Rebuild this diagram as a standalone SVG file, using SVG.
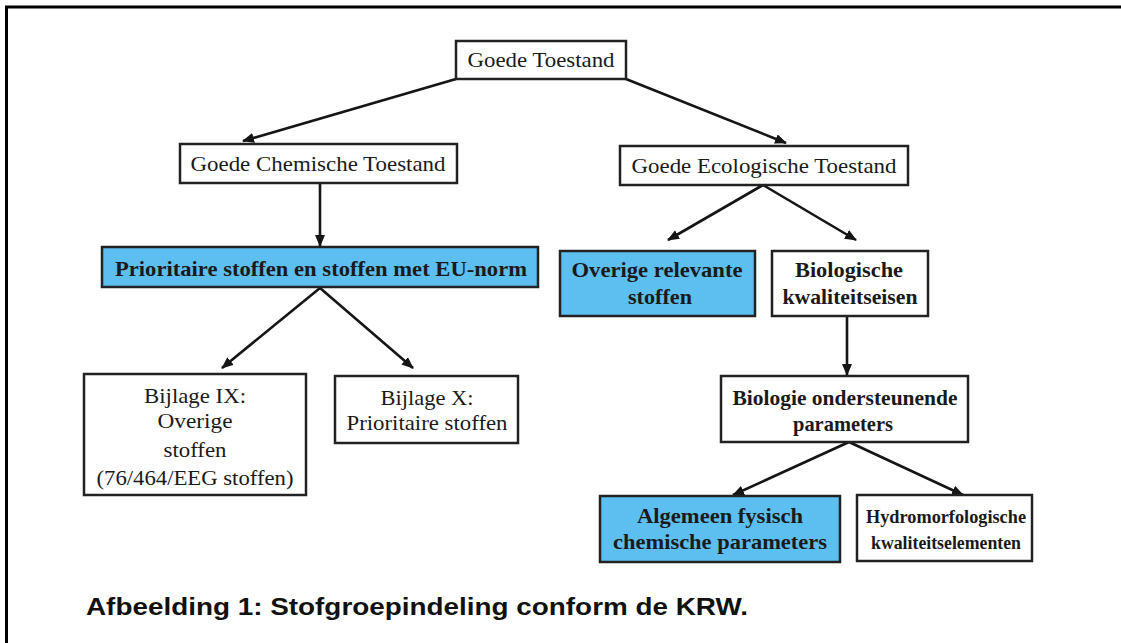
<svg xmlns="http://www.w3.org/2000/svg" width="1121" height="643" viewBox="0 0 1121 643">
<defs>
<marker id="ah" viewBox="0 0 12 10" refX="11" refY="5" markerWidth="12" markerHeight="10" markerUnits="userSpaceOnUse" orient="auto">
<path d="M0,0 L12,5 L0,10 z" fill="#151515"/>
</marker>
<style>
.box{fill:#ffffff;stroke:#222;stroke-width:2.5}
.blue{fill:#5cbff0;stroke:#222;stroke-width:2.5}
.t{font-family:"Liberation Serif","Times New Roman",serif;font-size:22px;fill:#1a1a1a;text-anchor:middle}
.b{font-weight:bold}
text.s{font-size:18px}
.c{stroke:#151515;stroke-width:2.6;fill:none;marker-end:url(#ah)}
.cap{font-family:"Liberation Sans",Arial,sans-serif;font-size:23px;font-weight:bold;fill:#111}
</style>
</defs>
<rect width="1121" height="643" fill="#ffffff"/>
<path d="M6.5,643 V7 H1121" fill="none" stroke="#000" stroke-width="3"/>

<g id="connectors">
<line class="c" x1="456" y1="79" x2="243" y2="141"/>
<line class="c" x1="626" y1="79" x2="786" y2="143"/>
<line class="c" x1="320" y1="183" x2="320" y2="246"/>
<line class="c" x1="320" y1="288" x2="222" y2="368"/>
<line class="c" x1="320" y1="288" x2="413" y2="368"/>
<line class="c" x1="763" y1="185" x2="668" y2="240"/>
<line class="c" x1="763" y1="185" x2="856" y2="240"/>
<line class="c" x1="847" y1="316" x2="847" y2="375"/>
<line class="c" x1="849" y1="442" x2="733" y2="495"/>
<line class="c" x1="849" y1="442" x2="963" y2="495"/>
</g>

<g id="goede-toestand">
<rect class="box" x="456" y="41" width="170" height="38"/>
<text class="t" x="541" y="67" textLength="147" lengthAdjust="spacingAndGlyphs">Goede Toestand</text>
</g>

<g id="goede-chemische-toestand">
<rect class="box" x="180" y="144" width="277" height="39"/>
<text class="t" x="318" y="171" textLength="255" lengthAdjust="spacingAndGlyphs">Goede Chemische Toestand</text>
</g>

<g id="goede-ecologische-toestand">
<rect class="box" x="620" y="146" width="288" height="39"/>
<text class="t" x="764" y="173" textLength="265" lengthAdjust="spacingAndGlyphs">Goede Ecologische Toestand</text>
</g>

<g id="prioritaire-stoffen-eu">
<rect class="blue" x="102" y="247" width="436" height="40"/>
<text class="t b" x="321" y="276" textLength="412" lengthAdjust="spacingAndGlyphs">Prioritaire stoffen en stoffen met EU-norm</text>
</g>

<g id="overige-relevante-stoffen">
<rect class="blue" x="560" y="251" width="195" height="65"/>
<text class="t b" x="657" y="277" textLength="171" lengthAdjust="spacingAndGlyphs">Overige relevante</text>
<text class="t b" x="660" y="304" textLength="64" lengthAdjust="spacingAndGlyphs">stoffen</text>
</g>

<g id="biologische-kwaliteitseisen">
<rect class="box" x="772" y="251" width="156" height="65"/>
<text class="t b" x="849" y="277" textLength="108" lengthAdjust="spacingAndGlyphs">Biologische</text>
<text class="t b" x="850" y="304" textLength="135" lengthAdjust="spacingAndGlyphs">kwaliteitseisen</text>
</g>

<g id="bijlage-ix">
<rect class="box" x="84" y="374" width="222" height="121"/>
<text class="t" x="195" y="403" textLength="102" lengthAdjust="spacingAndGlyphs">Bijlage IX:</text>
<text class="t" x="195" y="428" textLength="75" lengthAdjust="spacingAndGlyphs">Overige</text>
<text class="t" x="195" y="457" textLength="63" lengthAdjust="spacingAndGlyphs">stoffen</text>
<text class="t" x="195" y="485" textLength="197" lengthAdjust="spacingAndGlyphs">(76/464/EEG stoffen)</text>
</g>

<g id="bijlage-x">
<rect class="box" x="335" y="376" width="183" height="67"/>
<text class="t" x="427" y="405" textLength="93" lengthAdjust="spacingAndGlyphs">Bijlage X:</text>
<text class="t" x="427" y="430" textLength="161" lengthAdjust="spacingAndGlyphs">Prioritaire stoffen</text>
</g>

<g id="biologie-ondersteunende-parameters">
<rect class="box" x="721" y="376" width="247" height="66"/>
<text class="t b" x="845" y="405" textLength="225" lengthAdjust="spacingAndGlyphs">Biologie ondersteunende</text>
<text class="t b" x="843" y="431" textLength="100" lengthAdjust="spacingAndGlyphs">parameters</text>
</g>

<g id="algemeen-fysisch-chemische-parameters">
<rect class="blue" x="600" y="496" width="240" height="66"/>
<text class="t b" x="720" y="523" textLength="166" lengthAdjust="spacingAndGlyphs">Algemeen fysisch</text>
<text class="t b" x="720" y="549" textLength="214" lengthAdjust="spacingAndGlyphs">chemische parameters</text>
</g>

<g id="hydromorfologische-kwaliteitselementen">
<rect class="box" x="857" y="495" width="175" height="66"/>
<text class="t b s" x="946" y="523" textLength="160" lengthAdjust="spacingAndGlyphs">Hydromorfologische</text>
<text class="t b s" x="946" y="549" textLength="150" lengthAdjust="spacingAndGlyphs">kwaliteitselementen</text>
</g>

<text class="cap" x="86" y="615" textLength="662" lengthAdjust="spacingAndGlyphs">Afbeelding 1: Stofgroepindeling conform de KRW.</text>
</svg>
